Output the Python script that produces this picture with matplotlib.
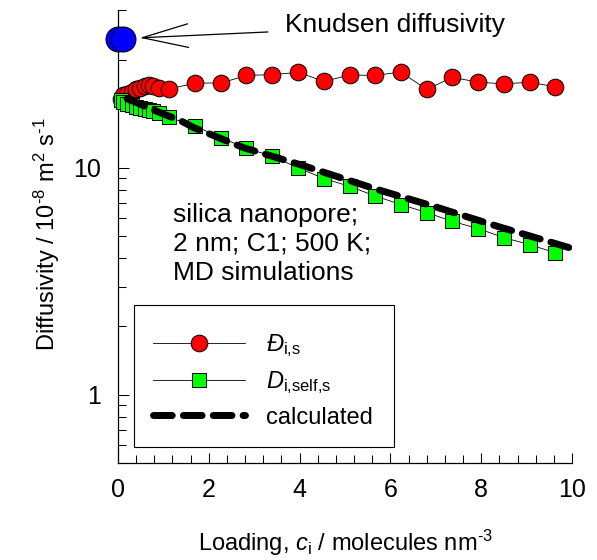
import matplotlib
matplotlib.use("Agg")
import matplotlib.pyplot as plt
from matplotlib.patches import Rectangle
from matplotlib.ticker import MultipleLocator, LogLocator, NullFormatter, FixedLocator, FixedFormatter

plt.rcParams['font.family'] = ['Liberation Sans', 'DejaVu Sans']
plt.rcParams['mathtext.fontset'] = 'custom'
plt.rcParams['mathtext.rm'] = 'Liberation Sans'
plt.rcParams['mathtext.it'] = 'Liberation Sans:italic'
plt.rcParams['mathtext.bf'] = 'Liberation Sans:bold'

# Loading, molecules per nm^3
loading = [0.06, 0.12, 0.2, 0.3, 0.4, 0.49, 0.6, 0.69, 0.78, 0.9, 1.13,
           1.70, 2.27, 2.83, 3.39, 3.97, 4.54, 5.10, 5.67, 6.23, 6.80,
           7.36, 7.94, 8.50, 9.07, 9.63]
# Maxwell-Stefan diffusivity, 1e-8 m2/s
d_ms = [20.2, 20.9, 21.3, 21.6, 22.2, 22.6, 23.1, 23.2, 22.9, 22.6, 22.3,
        23.7, 23.7, 25.6, 25.8, 26.4, 24.1, 25.7, 25.6, 26.5, 22.2,
        25.1, 23.9, 23.5, 23.9, 22.8]
# Self diffusivity, 1e-8 m2/s
d_self = [19.9, 19.6, 19.2, 18.9, 18.6, 18.4, 18.2, 18.0, 17.8, 17.5, 16.7,
          15.3, 13.6, 12.2, 11.3, 10.0, 8.98, 8.30, 7.52, 6.90, 6.36,
          5.82, 5.40, 4.93, 4.59, 4.23]
# Calculated self diffusivity
calc_x = [0.2, 0.6, 1.0, 1.37, 1.66, 2.76, 4.01, 5.70, 6.95, 8.41, 9.96]
calc_y = [20.2, 18.7, 17.3, 16.2, 15.1, 12.3, 10.35, 8.05, 6.78, 5.49, 4.44]
# Knudsen diffusivity
knudsen_x = [0.0, 0.11]
knudsen_y = [37.0, 37.0]

x_ticks = [0, 2, 4, 6, 8, 10]
y_ticks = [1, 10]

fig = plt.figure(figsize=(5.97, 5.60), dpi=100)
ax = fig.add_axes([118 / 597, 1 - 463 / 560, 454 / 597, 453.5 / 560])

ax.plot(loading, d_ms, '-', color='black', lw=0.6, marker='o', ms=12,
        mfc='#ff0000', mec='black', mew=0.7, zorder=3, clip_on=False,
        label=r'$Đ_{\mathrm{i{,}s}}$')
ax.plot(loading, d_self, '-', color='black', lw=0.6, marker='s', ms=10,
        mfc='#00ff00', mec='black', mew=0.7, zorder=4, clip_on=False,
        label=r'$D_{\mathrm{i{,}self{,}s}}$')
ax.plot(calc_x, calc_y, '-', color='black', lw=5, dashes=(2.7, 1.6),
        dash_capstyle='round', zorder=5, label='calculated')
ax.plot(knudsen_x, knudsen_y, 'o', ms=18, mfc='#0000ff', mec='black',
        mew=0.7, zorder=6, clip_on=False)

ax.annotate('', xy=(0.48, 37.5), xytext=(3.3, 39.8),
            arrowprops=dict(arrowstyle='->,head_length=3.3,head_width=0.85',
                            color='black', lw=0.9, shrinkA=0, shrinkB=0),
            annotation_clip=False)
ax.text(3.68, 39.8, 'Knudsen diffusivity', fontsize=19, va='baseline', ha='left')

ax.text(0.1205, 0.573, 'silica nanopore;\n2 nm; C1; 500 K;\nMD simulations',
        transform=ax.transAxes, fontsize=19, va='top', ha='left',
        linespacing=1.25)

ax.set_yscale('log')
ax.set_xlim(0, 10)
ax.set_ylim(0.5, 50)

ax.xaxis.set_major_locator(FixedLocator(x_ticks))
ax.xaxis.set_major_formatter(FixedFormatter([str(t) for t in x_ticks]))
ax.xaxis.set_minor_locator(MultipleLocator(0.4))
ax.yaxis.set_major_locator(FixedLocator(y_ticks))
ax.yaxis.set_major_formatter(FixedFormatter([str(t) for t in y_ticks]))
ax.yaxis.set_minor_locator(LogLocator(base=10, subs=range(2, 10)))
ax.yaxis.set_minor_formatter(NullFormatter())

ax.tick_params(which='both', direction='in', width=0.75, labelsize=18)
ax.tick_params(axis='x', which='major', length=7.2, pad=11)
ax.tick_params(axis='x', which='minor', length=5.5)
ax.tick_params(axis='y', which='major', length=8, pad=12)
ax.tick_params(axis='y', which='minor', length=5.8)

for side in ('top', 'right'):
    ax.spines[side].set_visible(False)
for side in ('left', 'bottom'):
    ax.spines[side].set_linewidth(0.9)

ax.set_xlabel(r'Loading, $c_{\mathrm{i}}$ / molecules nm$^{\text{-}3}$', fontsize=17)
ax.set_ylabel(r'Diffusivity / 10$^{\text{-}8}$ m$^{2}$ s$^{\text{-}1}$', fontsize=17)
ax.xaxis.set_label_coords(0.5, -0.143)
ax.yaxis.set_label_coords(-0.123, 0.505)

# Legend entries without frame; the box is drawn as a separate rectangle
leg = ax.legend(loc='upper left', bbox_to_anchor=(134 / 597, 1 - 313 / 560),
                bbox_transform=fig.transFigure, borderaxespad=0,
                fontsize=17, frameon=False, handlelength=3.9,
                handletextpad=0.9, borderpad=0.8, labelspacing=0.45)
fig.patches.append(Rectangle((134 / 597, 1 - 447 / 560), 260 / 597, 142 / 560,
                             transform=fig.transFigure, fill=False,
                             edgecolor='black', lw=0.8))

fig.savefig('out.png', dpi=100)
